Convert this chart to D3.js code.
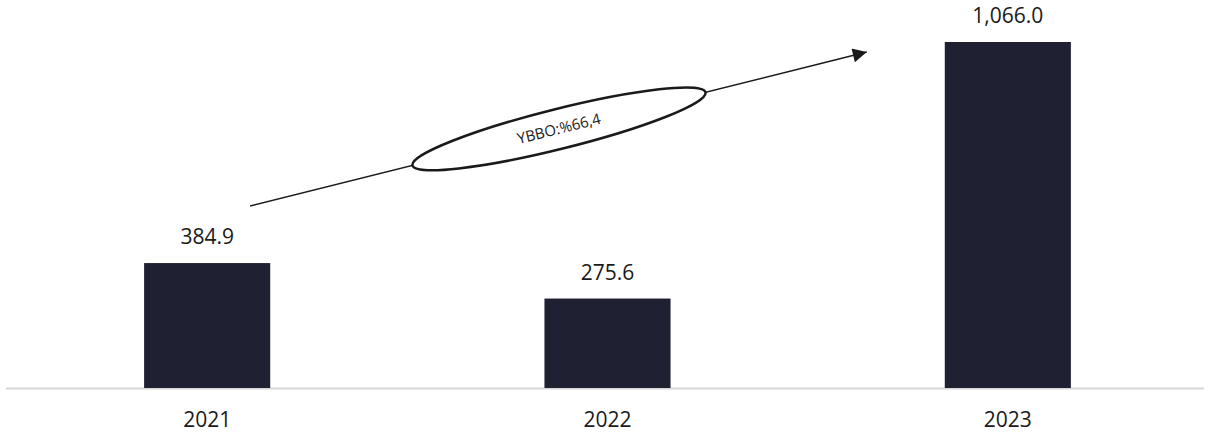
<!DOCTYPE html>
<html>
<head>
<meta charset="utf-8">
<script src="https://cdn.jsdelivr.net/npm/d3@7"></script>
<style>
  html, body { margin: 0; padding: 0; background: #ffffff; }
  svg { display: block; }
  text { font-family: "Open Sans", "Noto Sans", sans-serif; fill: #1a1a1a; }
</style>
</head>
<body>
<svg id="chart" width="1211" height="434"></svg>
<script>
// ---- data ----
const categories = ["2021", "2022", "2023"];
const values = [384.9, 275.6, 1066.0];
const cagrLabel = "YBBO:%66,4";

// ---- layout ----
const W = 1211, H = 434;
const baseline = 388;
const svg = d3.select("#chart");

const x = d3.scaleBand()
  .domain(categories)
  .range([7, 1208])
  .paddingInner(0.685)
  .paddingOuter(0.3425);

const y = d3.scaleLinear()
  .domain([0, 1066])
  .range([baseline, 42]);

const data = categories.map((c, i) => ({ cat: c, val: values[i] }));

// baseline axis line
svg.append("line")
  .attr("x1", 6).attr("x2", 1204)
  .attr("y1", baseline + 0.5).attr("y2", baseline + 0.5)
  .attr("stroke", "#d6d6d6").attr("stroke-width", 2);

// bars
svg.selectAll("rect.bar").data(data).enter().append("rect")
  .attr("class", "bar")
  .attr("x", d => x(d.cat))
  .attr("y", d => y(d.val))
  .attr("width", x.bandwidth())
  .attr("height", d => baseline - y(d.val))
  .attr("fill", "#1f2031");

// value labels
const fmt = d3.format(",.1f");
svg.selectAll("text.val").data(data).enter().append("text")
  .attr("class", "val")
  .attr("x", d => x(d.cat) + x.bandwidth() / 2)
  .attr("y", d => y(d.val) - 19)
  .attr("text-anchor", "middle")
  .attr("font-size", 21)
  .text(d => fmt(d.val));

// category labels
const xAxis = d3.axisBottom(x).tickSize(0).tickPadding(0);
const gx = svg.append("g")
  .attr("transform", `translate(0, ${baseline})`)
  .call(xAxis);
gx.select(".domain").remove();
gx.selectAll("text")
  .attr("font-size", 21)
  .attr("font-family", "'Open Sans', sans-serif")
  .attr("fill", "#1a1a1a")
  .attr("dy", 0)
  .attr("y", 39);

// ---- CAGR annotation arrow + ellipse ----
const defs = svg.append("defs");
defs.append("marker")
  .attr("id", "arrowhead")
  .attr("viewBox", "0 0 10 10")
  .attr("refX", 10).attr("refY", 5)
  .attr("markerUnits", "userSpaceOnUse")
  .attr("markerWidth", 17).attr("markerHeight", 14)
  .attr("orient", "auto")
  .append("path")
  .attr("d", "M0,0 L10,5 L0,10 Z")
  .attr("fill", "#1a1a1a");

const startPt = [x("2021") + 106, 206];
const endPt = [x("2023") - 78, 52];
svg.append("line")
  .attr("x1", startPt[0]).attr("y1", startPt[1])
  .attr("x2", endPt[0]).attr("y2", endPt[1])
  .attr("stroke", "#1a1a1a").attr("stroke-width", 1.5)
  .attr("marker-end", "url(#arrowhead)");

const angle = Math.atan2(endPt[1] - startPt[1], endPt[0] - startPt[0]) * 180 / Math.PI;
const cx = 559;
const cy = startPt[1] + (endPt[1] - startPt[1]) * (cx - startPt[0]) / (endPt[0] - startPt[0]);

const ann = svg.append("g")
  .attr("transform", `translate(${cx},${cy}) rotate(${angle})`);
ann.append("ellipse")
  .attr("rx", 151).attr("ry", 20)
  .attr("fill", "#ffffff")
  .attr("stroke", "#1a1a1a").attr("stroke-width", 2.5);
ann.append("text")
  .attr("x", 0).attr("y", 5)
  .attr("text-anchor", "middle")
  .attr("font-size", 15)
  .attr("fill", "#2a2a2a")
  .text(cagrLabel);
</script>
</body>
</html>
